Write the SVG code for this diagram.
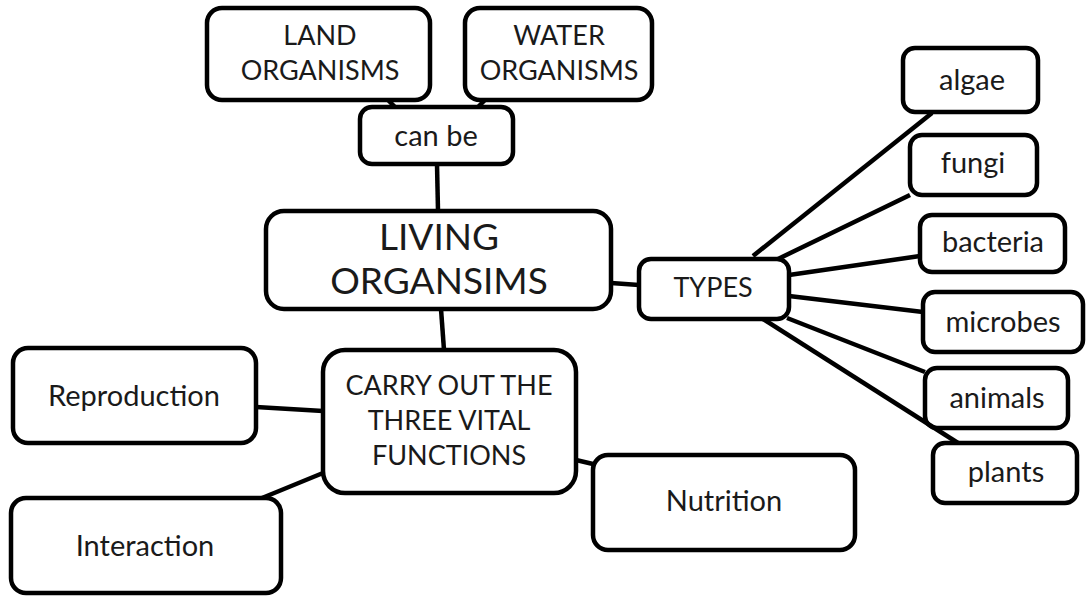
<svg xmlns="http://www.w3.org/2000/svg" width="1092" height="596" viewBox="0 0 1092 596">
<style>
.box{fill:#fff;stroke:#000;stroke-width:4.5}
.t{font-family:Lato,"Liberation Sans",sans-serif;font-size:29px;fill:#1a1a1a;text-anchor:middle}
.cap{font-size:27px}
.big{font-size:37px}
.con line{stroke:#000;stroke-width:4.5;stroke-linecap:butt}
</style>
<rect width="1092" height="596" fill="#fff"/>
<g id="land"><rect class="box" x="207" y="8" width="223" height="92" rx="15"/><text class="t cap" x="320" y="45">LAND</text><text class="t cap" x="320" y="80">ORGANISMS</text></g>
<g id="water"><rect class="box" x="465" y="8" width="187" height="92" rx="15"/><text class="t cap" x="559" y="45">WATER</text><text class="t cap" x="559" y="80">ORGANISMS</text></g>
<g id="canbe"><rect class="box" x="360" y="107" width="153" height="57" rx="12"/><text class="t" x="436" y="146">can be</text></g>
<g id="living"><rect class="box" x="266" y="211" width="345" height="98" rx="18"/><text class="t big" x="439" y="250">LIVING</text><text class="t big" x="439" y="294">ORGANSIMS</text></g>
<g id="types"><rect class="box" x="639" y="259" width="150" height="60" rx="12"/><text class="t cap" x="713" y="297">TYPES</text></g>
<g id="algae"><rect class="box" x="903" y="48" width="135" height="64" rx="12"/><text class="t" x="972" y="90">algae</text></g>
<g id="fungi"><rect class="box" x="910" y="135" width="127" height="60" rx="12"/><text class="t" x="973" y="173">fungi</text></g>
<g id="bacteria"><rect class="box" x="920" y="215" width="145" height="57" rx="12"/><text class="t" x="993" y="252">bacteria</text></g>
<g id="microbes"><rect class="box" x="923" y="292" width="160" height="60" rx="12"/><text class="t" x="1003" y="332">microbes</text></g>
<g id="animals"><rect class="box" x="925" y="368" width="143" height="60" rx="12"/><text class="t" x="997" y="408">animals</text></g>
<g id="plants"><rect class="box" x="933" y="443" width="144" height="60" rx="12"/><text class="t" x="1006" y="482">plants</text></g>
<g id="reproduction"><rect class="box" x="13" y="348" width="243" height="95" rx="15"/><text class="t" x="134" y="406">Reproduction</text></g>
<g id="carry"><rect class="box" x="323" y="350" width="253" height="143" rx="22"/><text class="t cap" x="449" y="395">CARRY OUT THE</text><text class="t cap" x="449" y="430">THREE VITAL</text><text class="t cap" x="449" y="465">FUNCTIONS</text></g>
<g id="interaction"><rect class="box" x="11" y="498" width="270" height="95" rx="15"/><text class="t" x="145" y="556">Interaction</text></g>
<g id="nutrition"><rect class="box" x="593" y="455" width="262" height="95" rx="15"/><text class="t" x="724" y="511">Nutrition</text></g>
<g id="connectors" class="con">
<line x1="388" y1="100" x2="395" y2="107"/>
<line x1="485" y1="100" x2="478" y2="107"/>
<line x1="437" y1="164" x2="438" y2="211"/>
<line x1="441" y1="309" x2="444" y2="350"/>
<line x1="611" y1="283" x2="639" y2="285"/>
<line x1="753" y1="256" x2="932" y2="113"/>
<line x1="778" y1="259" x2="910" y2="195"/>
<line x1="789" y1="275" x2="920" y2="256"/>
<line x1="789" y1="296" x2="923" y2="312"/>
<line x1="787" y1="318" x2="925" y2="372"/>
<line x1="763" y1="319" x2="958" y2="443"/>
<line x1="256" y1="407" x2="323" y2="411"/>
<line x1="262" y1="498" x2="323" y2="473"/>
<line x1="576" y1="460" x2="593" y2="464"/>
</g>
</svg>
